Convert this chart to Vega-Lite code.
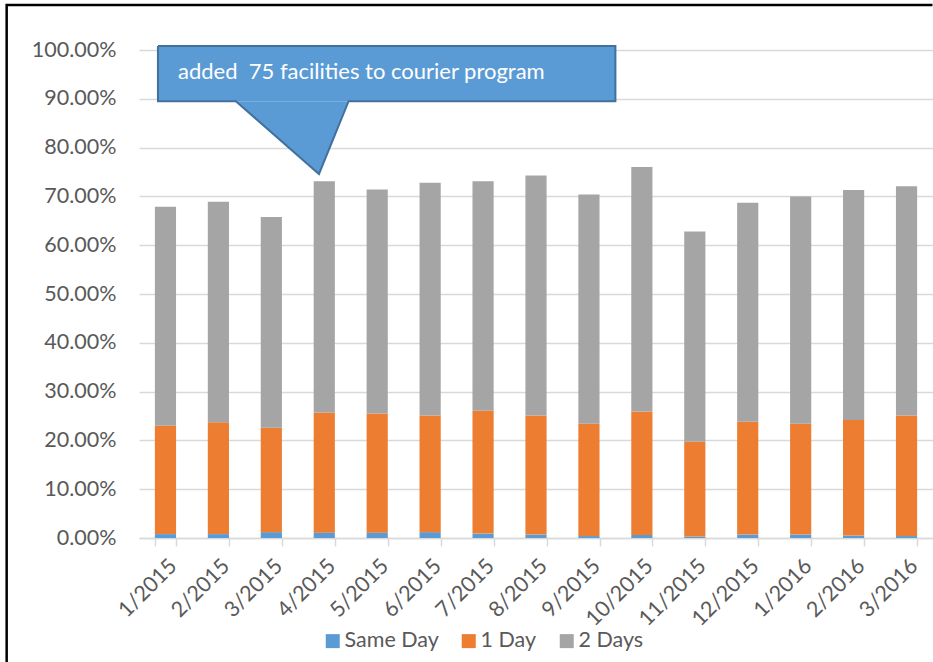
{
  "$schema": "https://vega.github.io/schema/vega-lite/v6.json",
  "width": 794,
  "height": 488,
  "autosize": {"type": "none"},
  "padding": {"left": 139, "top": 50, "right": 0, "bottom": 124},
  "background": "white",
  "config": {
    "view": {"stroke": null},
    "font": "Lato",
    "axis": {"labelFont": "Lato", "labelColor": "#595959", "labelFontSize": 21.5},
    "legend": {"labelFont": "Lato", "labelColor": "#595959", "labelFontSize": 21.5}
  },
  "datasets": {
    "shares": [
      {"month": "1/2015", "speed": "Same Day", "tier": 1, "share": 0.008},
      {"month": "1/2015", "speed": "1 Day", "tier": 2, "share": 0.222},
      {"month": "1/2015", "speed": "2 Days", "tier": 3, "share": 0.449},
      {"month": "2/2015", "speed": "Same Day", "tier": 1, "share": 0.008},
      {"month": "2/2015", "speed": "1 Day", "tier": 2, "share": 0.229},
      {"month": "2/2015", "speed": "2 Days", "tier": 3, "share": 0.452},
      {"month": "3/2015", "speed": "Same Day", "tier": 1, "share": 0.012},
      {"month": "3/2015", "speed": "1 Day", "tier": 2, "share": 0.214},
      {"month": "3/2015", "speed": "2 Days", "tier": 3, "share": 0.432},
      {"month": "4/2015", "speed": "Same Day", "tier": 1, "share": 0.011},
      {"month": "4/2015", "speed": "1 Day", "tier": 2, "share": 0.246},
      {"month": "4/2015", "speed": "2 Days", "tier": 3, "share": 0.474},
      {"month": "5/2015", "speed": "Same Day", "tier": 1, "share": 0.011},
      {"month": "5/2015", "speed": "1 Day", "tier": 2, "share": 0.244},
      {"month": "5/2015", "speed": "2 Days", "tier": 3, "share": 0.459},
      {"month": "6/2015", "speed": "Same Day", "tier": 1, "share": 0.012},
      {"month": "6/2015", "speed": "1 Day", "tier": 2, "share": 0.239},
      {"month": "6/2015", "speed": "2 Days", "tier": 3, "share": 0.477},
      {"month": "7/2015", "speed": "Same Day", "tier": 1, "share": 0.009},
      {"month": "7/2015", "speed": "1 Day", "tier": 2, "share": 0.252},
      {"month": "7/2015", "speed": "2 Days", "tier": 3, "share": 0.470},
      {"month": "8/2015", "speed": "Same Day", "tier": 1, "share": 0.007},
      {"month": "8/2015", "speed": "1 Day", "tier": 2, "share": 0.244},
      {"month": "8/2015", "speed": "2 Days", "tier": 3, "share": 0.492},
      {"month": "9/2015", "speed": "Same Day", "tier": 1, "share": 0.004},
      {"month": "9/2015", "speed": "1 Day", "tier": 2, "share": 0.230},
      {"month": "9/2015", "speed": "2 Days", "tier": 3, "share": 0.470},
      {"month": "10/2015", "speed": "Same Day", "tier": 1, "share": 0.006},
      {"month": "10/2015", "speed": "1 Day", "tier": 2, "share": 0.253},
      {"month": "10/2015", "speed": "2 Days", "tier": 3, "share": 0.501},
      {"month": "11/2015", "speed": "Same Day", "tier": 1, "share": 0.003},
      {"month": "11/2015", "speed": "1 Day", "tier": 2, "share": 0.194},
      {"month": "11/2015", "speed": "2 Days", "tier": 3, "share": 0.431},
      {"month": "12/2015", "speed": "Same Day", "tier": 1, "share": 0.007},
      {"month": "12/2015", "speed": "1 Day", "tier": 2, "share": 0.231},
      {"month": "12/2015", "speed": "2 Days", "tier": 3, "share": 0.449},
      {"month": "1/2016", "speed": "Same Day", "tier": 1, "share": 0.007},
      {"month": "1/2016", "speed": "1 Day", "tier": 2, "share": 0.227},
      {"month": "1/2016", "speed": "2 Days", "tier": 3, "share": 0.466},
      {"month": "2/2016", "speed": "Same Day", "tier": 1, "share": 0.005},
      {"month": "2/2016", "speed": "1 Day", "tier": 2, "share": 0.237},
      {"month": "2/2016", "speed": "2 Days", "tier": 3, "share": 0.471},
      {"month": "3/2016", "speed": "Same Day", "tier": 1, "share": 0.004},
      {"month": "3/2016", "speed": "1 Day", "tier": 2, "share": 0.247},
      {"month": "3/2016", "speed": "2 Days", "tier": 3, "share": 0.470}
    ],
    "pointer": [
      {"u": 1.83, "top": 0.895, "tip": 0.895},
      {"u": 3.40, "top": 0.895, "tip": 0.746},
      {"u": 3.96, "top": 0.895, "tip": 0.895}
    ],
    "outline": [
      {"k": 1, "u": 0.358, "v": 1.008},
      {"k": 2, "u": 9.0, "v": 1.008},
      {"k": 3, "u": 9.0, "v": 0.895},
      {"k": 4, "u": 3.96, "v": 0.895},
      {"k": 5, "u": 3.40, "v": 0.746},
      {"k": 6, "u": 1.83, "v": 0.895},
      {"k": 7, "u": 0.358, "v": 0.895},
      {"k": 8, "u": 0.358, "v": 1.008}
    ],
    "frame": [
      {"k": 1, "u": -2.5, "v": -0.27},
      {"k": 2, "u": -2.5, "v": 1.092},
      {"k": 3, "u": 14.99, "v": 1.092}
    ]
  },
  "resolve": {"scale": {"x": "independent"}, "axis": {"x": "independent"}},
  "layer": [
    {
      "data": {"name": "shares"},
      "mark": {"type": "bar"},
      "encoding": {
        "x": {
          "field": "month",
          "type": "ordinal",
          "sort": null,
          "scale": {"paddingInner": 0.6, "paddingOuter": 0.3},
          "axis": {
            "title": null,
            "labelAngle": -45,
            "labelPadding": 9,
            "domainColor": "#D9D9D9",
            "domainWidth": 1.5,
            "tickColor": "#D9D9D9",
            "tickWidth": 1.5,
            "tickSize": 8,
            "tickBand": "extent",
            "grid": false
          }
        },
        "y": {
          "field": "share",
          "type": "quantitative",
          "aggregate": "sum",
          "stack": "zero",
          "scale": {"domain": [0, 1], "nice": false},
          "axis": {
            "title": null,
            "format": ".2%",
            "values": [0, 0.1, 0.2, 0.3, 0.4, 0.5, 0.6, 0.7, 0.8, 0.9, 1],
            "domain": false,
            "ticks": false,
            "labelPadding": 23,
            "gridColor": "#D9D9D9",
            "gridWidth": 1.5
          }
        },
        "order": {"field": "tier", "type": "quantitative", "aggregate": "min"},
        "color": {
          "field": "speed",
          "type": "nominal",
          "scale": {"domain": ["Same Day", "1 Day", "2 Days"], "range": ["#5B9BD5", "#ED7D31", "#A5A5A5"]},
          "legend": {
            "title": null,
            "orient": "none",
            "direction": "horizontal",
            "legendX": 183,
            "legendY": 580,
            "symbolType": "square",
            "symbolSize": 196,
            "symbolStrokeWidth": 0,
            "labelOffset": 1,
            "columnPadding": 19
          }
        }
      }
    },
    {
      "data": {"values": [{}]},
      "layer": [
        {
          "data": {"name": "frame"},
          "mark": {"type": "line", "color": "black", "strokeWidth": 2.5},
          "encoding": {
            "x": {"field": "u", "type": "quantitative", "scale": {"domain": [0, 15], "nice": false, "zero": false}, "axis": null},
            "y": {"field": "v", "type": "quantitative"},
            "order": {"field": "k"}
          }
        },
        {
          "mark": {"type": "rect", "color": "#5B9BD5"},
          "encoding": {
            "x": {"datum": 0.358, "type": "quantitative"},
            "x2": {"datum": 9.0},
            "y": {"datum": 1.008, "type": "quantitative"},
            "y2": {"datum": 0.895}
          }
        },
        {
          "data": {"name": "pointer"},
          "mark": {"type": "area", "color": "#5B9BD5", "orient": "vertical"},
          "encoding": {
            "x": {"field": "u", "type": "quantitative"},
            "y": {"field": "top", "type": "quantitative"},
            "y2": {"field": "tip"}
          }
        },
        {
          "data": {"name": "outline"},
          "mark": {"type": "line", "color": "#41719C", "strokeWidth": 2},
          "encoding": {
            "x": {"field": "u", "type": "quantitative"},
            "y": {"field": "v", "type": "quantitative"},
            "order": {"field": "k"}
          }
        },
        {
          "mark": {"type": "text", "text": "added\u00a0 75 facilities to courier program", "color": "white", "font": "Lato", "fontSize": 22, "align": "left", "baseline": "middle"},
          "encoding": {
            "x": {"datum": 0.736, "type": "quantitative"},
            "y": {"datum": 0.955, "type": "quantitative"}
          }
        }
      ]
    }
  ]
}
